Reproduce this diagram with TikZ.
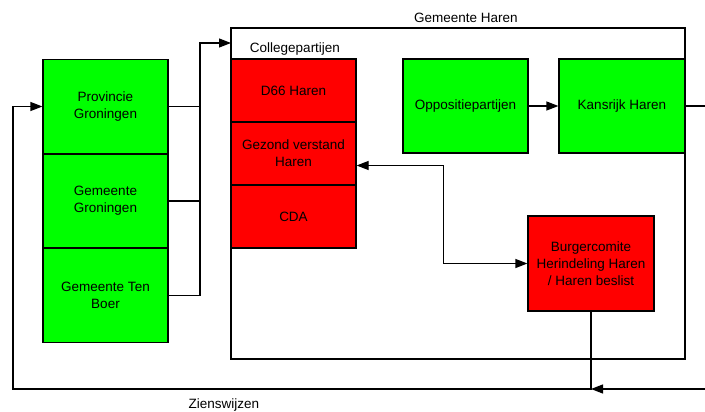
\documentclass[tikz,border=0pt]{standalone}
\usepackage{fontspec}
\setmainfont{Liberation Sans}
\usetikzlibrary{shapes,arrows.meta,positioning,calc}
\usepackage{xcolor}
\definecolor{partgreen}{HTML}{00FF00}
\definecolor{partred}{HTML}{FF0000}

\begin{document}
\begin{tikzpicture}[
    x=1pt, y=-1pt,
    font=\fontsize{13.5}{17}\selectfont,
    party/.style={rectangle, draw, line width=1.2pt, minimum width=125pt, align=center, inner sep=2pt},
    greenbox/.style={party, fill=partgreen, minimum height=94pt},
    redbox/.style={party, fill=partred, minimum height=63pt},
    arrow/.style={-{Triangle[length=12pt,width=9pt]}, line width=1.2pt},
    line/.style={line width=1.2pt}
]
    \useasboundingbox (0,0) rectangle (705,412);

    % Gemeente Haren kader
    \node[draw, line width=1.2pt, minimum width=454pt, minimum height=331pt, inner sep=0pt] (haren) at (458,193.5) {};
    \node (harenlabel) at (466,18) {Gemeente Haren};
    \node (college) at (295,49) {Collegepartijen};

    % linker kolom
    \node[greenbox] (provincie) at (105.5,106.5) {Provincie\\Groningen};
    \node[greenbox] (groningen) at (105.5,201) {Gemeente\\Groningen};
    \node[greenbox] (tenboer) at (105.5,295.5) {Gemeente Ten\\Boer};

    % collegepartijen
    \node[redbox] (d66) at (293.5,90.5) {D66 Haren};
    \node[redbox] (gezond) at (293.5,153.5) {Gezond verstand\\Haren};
    \node[redbox] (cda) at (293.5,216.5) {CDA};

    % oppositie
    \node[greenbox] (oppositie) at (465.5,106) {Oppositiepartijen};
    \node[greenbox, minimum width=126pt] (kansrijk) at (622,106) {Kansrijk Haren};

    % burgercomite
    \node[party, fill=partred, minimum width=126pt, minimum height=95pt] (burger) at (591,263.5) {Burgercomite\\Herindeling Haren\\/ Haren beslist};

    % hulppunten
    \coordinate (bus) at (200,43);
    \coordinate (harenin) at (231,43);
    \coordinate (rechtsboven) at (705,106);
    \coordinate (rechtsonder) at (705,389);
    \coordinate (knik) at (591,389);
    \coordinate (linksonder) at (13,389);

    % pijlen naar Haren
    \draw[line] (provincie.east) -- (provincie.east -| bus);
    \draw[line] (groningen.east) -- (groningen.east -| bus);
    \draw[arrow] (tenboer.east) -| (bus) -- (harenin);

    % oppositie
    \draw[arrow] (oppositie) -- (kansrijk);
    \draw[line] (kansrijk.east) -- (rechtsboven);

    % burgercomite
    \draw[arrow, {Triangle[length=12pt,width=9pt]}-{Triangle[length=12pt,width=9pt]}] ([yshift=-12pt]gezond.east) -- ++(87,0) |- (burger.west);

    % zienswijzen
    \draw[arrow] (rechtsonder) -- (knik);
    \draw[arrow] (burger.south) -- (knik) -- (linksonder) |- (provincie.west);
    \node (zienswijzen) at (224,405) {Zienswijzen};
\end{tikzpicture}
\end{document}
